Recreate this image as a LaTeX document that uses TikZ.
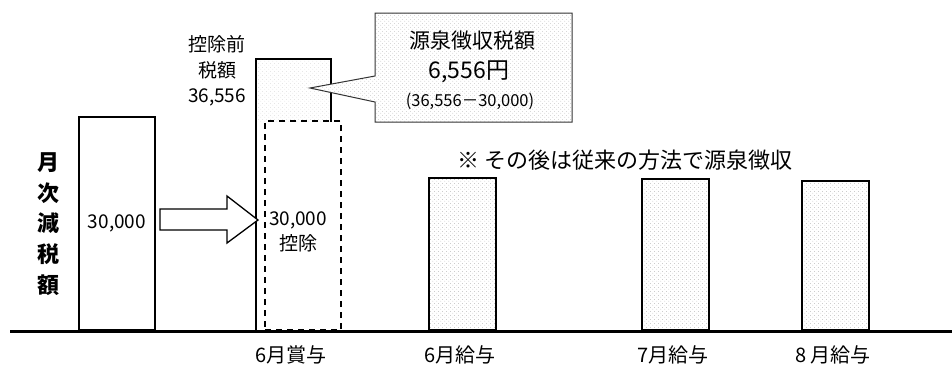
\documentclass[tikz,border=0pt]{standalone}
\usepackage{fontspec}
\setmainfont{Noto Sans CJK JP}
\usetikzlibrary{patterns.meta}
\tikzdeclarepattern{
  name=sparsedots,
  type=uncolored,
  bounding box={(0,0) and (4pt,4pt)},
  tile size={(4pt,4pt)},
  code={\fill (1pt,1pt) circle (0.45pt); \fill (3pt,3pt) circle (0.45pt);}
}
\tikzset{
  bar/.style={draw=black, line width=2pt, anchor=south west, inner sep=0pt},
  dotbar/.style={bar, pattern={sparsedots}, pattern color=gray!70},
  lbl/.style={font=\fontsize{20}{25}\selectfont, inner sep=0pt, align=center},
  smalllbl/.style={font=\fontsize{19}{25.5}\selectfont, inner sep=0pt, align=center},
}
\begin{document}
\begin{tikzpicture}[x=1pt,y=-1pt]
\useasboundingbox (0,0) rectangle (952,365);

% baseline
\coordinate (bl) at (10,331);
\coordinate (br) at (952,331);
\draw[line width=3pt] (bl) -- (br);

% vertical axis label
\node[font=\bfseries\fontsize{22}{30.7}\selectfont, align=center, inner sep=0pt] (ylab) at (48,224) {月\\次\\減\\税\\額};

% bar 1
\node[bar, minimum width=76pt, minimum height=213pt] (b1) at (78,331) {};
\node[lbl, font=\fontsize{19}{25}\selectfont] (b1t) at (b1.center) {30,000};

% bonus bar: solid upper outline
\coordinate (s1) at (256,331);
\coordinate (s2) at (256,59);
\coordinate (s3) at (331,59);
\coordinate (s4) at (331,122);
\fill[pattern={sparsedots}, pattern color=gray!40] (256,59) rectangle (331,122);
\draw[line width=2pt] (s1) -- (s2) -- (s3) -- (s4);
% dashed deduction box
\node[bar, dashed, dash pattern=on 6pt off 5pt, minimum width=76pt, minimum height=209pt] (b2) at (264,331) {};
\node[smalllbl] (b2t) at (298,232) {30,000\\控除};

% pre-deduction tax label
\node[smalllbl] (pre) at (217,71) {控除前\\税額\\36,556};

% block arrow
\coordinate (a1) at (160,209);
\coordinate (a2) at (227,209);
\coordinate (a3) at (227,196);
\coordinate (a4) at (258,220);
\coordinate (a5) at (227,243);
\coordinate (a6) at (227,230);
\coordinate (a7) at (160,230);
\draw[line width=1.3pt, fill=white, line join=miter] (a1) -- (a2) -- (a3) -- (a4) -- (a5) -- (a6) -- (a7) -- cycle;

% callout
\coordinate (c1) at (375,13);
\coordinate (c2) at (572,13);
\coordinate (c3) at (572,122);
\coordinate (c4) at (375,122);
\coordinate (c5) at (375,102);
\coordinate (tip) at (310,88);
\coordinate (c6) at (375,76);
\path[fill=white] (c1) -- (c2) -- (c3) -- (c4) -- (c5) -- (tip) -- (c6) -- cycle;
\draw[line width=1pt, draw=black!80, pattern={sparsedots}, pattern color=gray!55] (c1) -- (c2) -- (c3) -- (c4) -- (c5) -- (tip) -- (c6) -- cycle;
\node[lbl, font=\fontsize{21}{25}\selectfont] (ct1) at (472,40) {源泉徴収税額};
\node[lbl, font=\fontsize{23}{25}\selectfont] (ct2) at (469,72) {6,556円};
\node[lbl, font=\fontsize{16.5}{18}\selectfont] (ct3) at (470,101) {(36,556－30,000)};

% note
\node[lbl, font=\fontsize{22}{25}\selectfont] (note) at (625,160) {※ その後は従来の方法で源泉徴収};

% salary bars
\node[dotbar, minimum width=67pt, minimum height=152pt] (b3) at (428,331) {};
\node[dotbar, minimum width=67pt, minimum height=151pt] (b4) at (641,331) {};
\node[dotbar, minimum width=67pt, minimum height=149pt] (b5) at (801,331) {};

% x labels
\node[lbl] (x1) at (291,355) {6月賞与};
\node[lbl] (x2) at (460,355) {6月給与};
\node[lbl] (x3) at (673,355) {7月給与};
\node[lbl] (x4) at (833,355) {8 月給与};
\end{tikzpicture}
\end{document}
